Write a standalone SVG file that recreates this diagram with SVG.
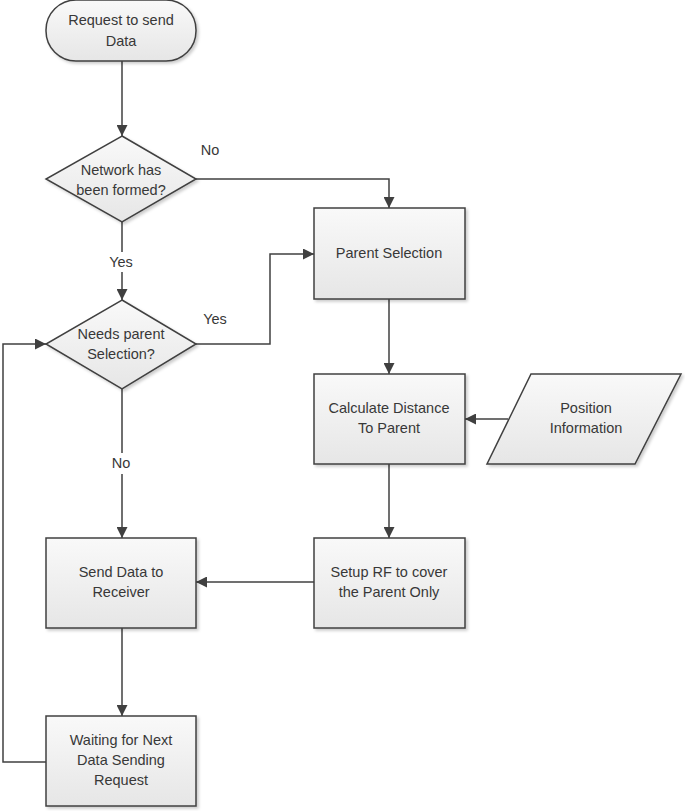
<svg xmlns="http://www.w3.org/2000/svg" width="685" height="811" viewBox="0 0 685 811">
<defs>
<linearGradient id="g" x1="0" y1="0" x2="0" y2="1">
<stop offset="0" stop-color="#f9f9f9"/>
<stop offset="1" stop-color="#e6e6e6"/>
</linearGradient>
<filter id="sh" x="-10%" y="-10%" width="130%" height="130%">
<feDropShadow dx="2" dy="2" stdDeviation="1.5" flood-color="#000" flood-opacity="0.2"/>
</filter>
<marker id="ah" viewBox="0 0 10 10" refX="10" refY="5" markerWidth="11" markerHeight="11" markerUnits="userSpaceOnUse" orient="auto">
<path d="M0,0 L10,5 L0,10 Z" fill="#404040"/>
</marker>
</defs>
<style>
.s{fill:url(#g);stroke:#404040;stroke-width:1.5;filter:url(#sh)}
.t{font-family:"Liberation Sans",Arial,sans-serif;font-size:14.5px;fill:#383838;text-anchor:middle}
.c{fill:none;stroke:#404040;stroke-width:1.5}
.l{font-family:"Liberation Sans",Arial,sans-serif;font-size:14.5px;fill:#383838;text-anchor:middle}
</style>
<rect width="685" height="811" fill="#fff"/>
<g id="connectors">
<path class="c" d="M122,61 V136" marker-end="url(#ah)"/>
<path class="c" d="M196,179 H389 V208" marker-end="url(#ah)"/>
<path class="c" d="M122,222 V252 M122,272 V300" marker-end="url(#ah)"/>
<path class="c" d="M196,344 H270 V254 H314" marker-end="url(#ah)"/>
<path class="c" d="M389,299 V374" marker-end="url(#ah)"/>
<path class="c" d="M508,419 H465" marker-end="url(#ah)"/>
<path class="c" d="M389,464 V538" marker-end="url(#ah)"/>
<path class="c" d="M122,389 V453 M122,474 V538" marker-end="url(#ah)"/>
<path class="c" d="M314,582 H196" marker-end="url(#ah)"/>
<path class="c" d="M122,628 V716" marker-end="url(#ah)"/>
<path class="c" d="M46,762 H3 V344 H46" marker-end="url(#ah)"/>
<text class="l" x="210" y="155">No</text>
<text class="l" x="121" y="267">Yes</text>
<text class="l" x="215" y="324">Yes</text>
<text class="l" x="121" y="468">No</text>
</g>
<g id="start">
<rect class="s" x="46" y="0" width="150" height="61" rx="30" ry="30"/>
<text class="t" x="121" y="25">Request to send</text>
<text class="t" x="121" y="46">Data</text>
</g>
<g id="network">
<path class="s" d="M122,136 L196,179 L122,222 L46,179 Z"/>
<text class="t" x="121" y="175">Network has</text>
<text class="t" x="121" y="195">been formed?</text>
</g>
<g id="needs">
<path class="s" d="M122,300 L196,344 L122,389 L46,344 Z"/>
<text class="t" x="121" y="339">Needs parent</text>
<text class="t" x="121" y="359">Selection?</text>
</g>
<g id="parent">
<rect class="s" x="314" y="208" width="151" height="91"/>
<text class="t" x="389" y="258">Parent Selection</text>
</g>
<g id="calc">
<rect class="s" x="314" y="374" width="151" height="90"/>
<text class="t" x="389" y="413">Calculate Distance</text>
<text class="t" x="389" y="433">To Parent</text>
</g>
<g id="position">
<path class="s" d="M531,374 H681 L635,464 H487 Z"/>
<text class="t" x="586" y="413">Position</text>
<text class="t" x="586" y="433">Information</text>
</g>
<g id="setup">
<rect class="s" x="314" y="538" width="151" height="90"/>
<text class="t" x="389" y="577">Setup RF to cover</text>
<text class="t" x="389" y="597">the Parent Only</text>
</g>
<g id="send">
<rect class="s" x="46" y="538" width="150" height="90"/>
<text class="t" x="121" y="577">Send Data to</text>
<text class="t" x="121" y="597">Receiver</text>
</g>
<g id="waiting">
<rect class="s" x="46" y="716" width="150" height="90"/>
<text class="t" x="121" y="745">Waiting for Next</text>
<text class="t" x="121" y="765">Data Sending</text>
<text class="t" x="121" y="785">Request</text>
</g>
</svg>
